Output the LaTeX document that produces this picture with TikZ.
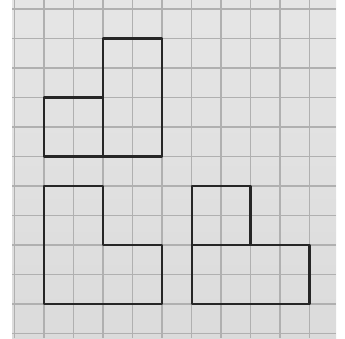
\documentclass[tikz,border=0pt]{standalone}
\begin{document}
\begin{tikzpicture}[x=1pt,y=-1pt,
  gridline/.style={draw=gray!62, line width=1.4pt},
  outline/.style={draw=black!85, line width=2.4pt, line join=round}]
\useasboundingbox (0,0) rectangle (345,339);
\fill[white] (0,0) rectangle (345,339);
\shade[top color=gray!20, bottom color=gray!28] (12,0) rectangle (336,338);
% grid
\foreach \i in {0,...,10} {
  \draw[gridline] ({14.5+29.5*\i},0) -- ({14.5+29.5*\i},338);
}
\foreach \j in {0,...,11} {
  \draw[gridline] (12,{9+29.5*\j}) -- (336,{9+29.5*\j});
}
% shape 1
\draw[outline] (103,38.5) rectangle (162,156.5);
\draw[outline] (44,97.5) rectangle (103,156.5);
% shape 2
\draw[outline] (44,186) -- (103,186) -- (103,245) -- (162,245) -- (162,304) -- (44,304) -- cycle;
% shape 3
\draw[outline] (192,186) rectangle (250.5,245);
\draw[outline] (192,245) rectangle (309.5,304);
\end{tikzpicture}
\end{document}
